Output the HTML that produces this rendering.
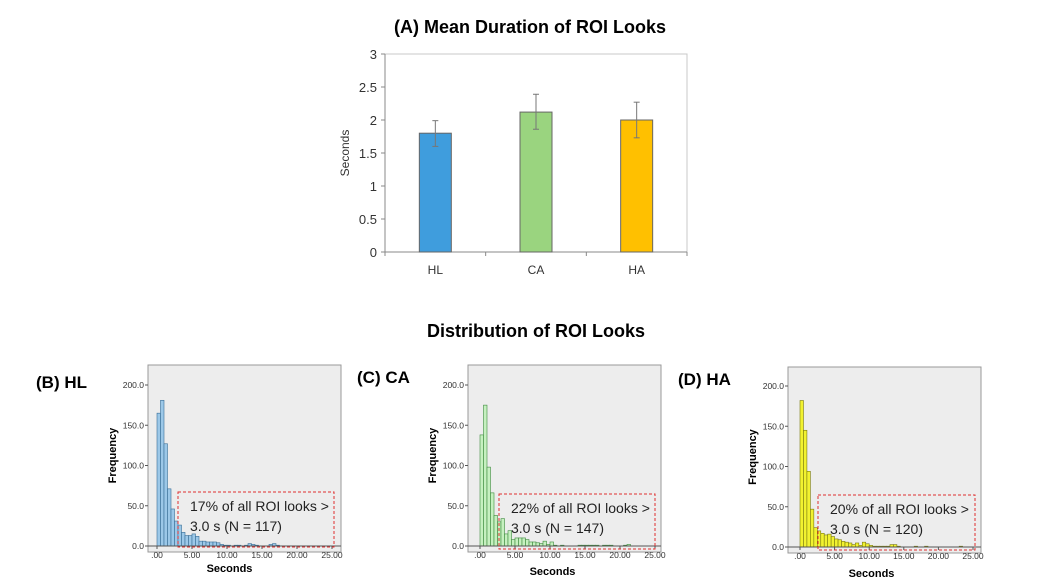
<!DOCTYPE html>
<html><head><meta charset="utf-8"><style>
body{margin:0;background:#fff;}
svg{display:block;font-family:"Liberation Sans",sans-serif;}
</style></head><body>
<svg id="s" width="1060" height="580" viewBox="0 0 1060 580">
<text x="530" y="33" font-size="18" font-weight="bold" text-anchor="middle">(A) Mean Duration of ROI Looks</text>
<text x="536" y="337" font-size="18" font-weight="bold" text-anchor="middle">Distribution of ROI Looks</text>
<g id="bar"></g>
<g id="hist"></g>
</svg>
<script>
const NS="http://www.w3.org/2000/svg";
function mk(p,t,a,txt){const e=document.createElementNS(NS,t);for(const k in a)e.setAttribute(k,a[k]);if(txt!==undefined)e.textContent=txt;p.appendChild(e);return e;}
// Bar chart data
const barCats=["HL","CA","HA"];
const barMeans=[1.8,2.12,2.0];
const barLow=[1.6,1.86,1.73];
const barHigh=[1.99,2.39,2.27];
const barColors=["#3f9ddd","#9ad47f","#ffc000"];
const barTicks=[0,0.5,1,1.5,2,2.5,3];
// Histogram data (0.5 s bins)
const histHL=[165,181,127,71,46,31,26,17,13,13,15,12,6,6,5,5,5,4,2,1,1,0,1,1,0,1,3,2,1,0,0,0,2,3,1,0,0,0,0,0,0,0,0,0,0,0,0,0,0,0];
const histCA=[138,175,98,66,38,30,34,15,19,8,10,10,10,8,5,5,4,3,6,2,5,1,0,1,0,0,0,0,1,1,1,1,1,1,0,1,1,1,0,0,0,1,2,0,0,0,0,0,0,0];
const histHA=[182,145,94,47,24,20,17,15,16,13,10,9,7,6,5,3,5,2,6,4,2,1,1,1,1,1,3,3,1,0,0,0,0,1,0,0,1,0,0,0,0,0,0,0,0,0,1,0,0,0];
const histTicksY=[0,50,100,150,200];
const histTicksX=[0,5,10,15,20,25];

// ---- bar chart
const B=document.getElementById('bar');
const L=385,R=687,T=54,Bt=252;
const y=v=>Bt-(v/3)*(Bt-T);
const bw=(R-L)/barCats.length;
mk(B,'rect',{x:L,y:T,width:R-L,height:Bt-T,fill:'none',stroke:'#c8c8c8','stroke-width':1});
mk(B,'line',{x1:L,y1:T,x2:L,y2:Bt,stroke:'#888'});
mk(B,'line',{x1:L,y1:Bt,x2:R,y2:Bt,stroke:'#888'});
barTicks.forEach(t=>{
 mk(B,'line',{x1:L-4,y1:y(t),x2:L,y2:y(t),stroke:'#888'});
 const tx=mk(B,'text',{x:L-8,y:y(t)+5,'font-size':13,'text-anchor':'end',fill:'#333'},String(t));
 
 
});
for(let i=0;i<=barCats.length;i++) mk(B,'line',{x1:L+i*bw,y1:Bt,x2:L+i*bw,y2:Bt+4,stroke:'#888'});
const yt=mk(B,'text',{x:349,y:153,'font-size':12,'text-anchor':'middle',transform:'rotate(-90 349 153)',fill:'#333'},'Seconds');


barCats.forEach((c,i)=>{
 const cx=L+bw*(i+0.5), w=32;
 const r=mk(B,'rect',{x:cx-w/2,y:y(barMeans[i]),width:w,height:Bt-y(barMeans[i]),fill:barColors[i],stroke:'#666','stroke-width':1});
 
 
 const g=mk(B,'g',{stroke:'#777','stroke-width':1});
 
 
 mk(g,'line',{x1:cx,y1:y(barLow[i]),x2:cx,y2:y(barHigh[i])});
 mk(g,'line',{x1:cx-3,y1:y(barLow[i]),x2:cx+3,y2:y(barLow[i])});
 mk(g,'line',{x1:cx-3,y1:y(barHigh[i]),x2:cx+3,y2:y(barHigh[i])});
 const lt=mk(B,'text',{x:cx,y:274,'font-size':12,'text-anchor':'middle',fill:'#333'},c);
 
 
});

// ---- histograms
const H=document.getElementById('hist');
const panels=[
 {data:histHL,name:'hl',label:'(B) HL',lx:36,ly:388,fl:148,fr:341,ft:365,ax:546,y200:385,x0:157,x25:332,fill:'#9cc8e8',stroke:'#3a6e96',box:[178,492,334,547],txt:['17% of all ROI looks >','3.0 s (N = 117)'],sy:572},
 {data:histCA,name:'ca',label:'(C) CA',lx:357,ly:383,fl:468,fr:661,ft:365,ax:546,y200:385,x0:480,x25:655,fill:'#c6f0c0',stroke:'#3d8a3d',box:[499,494,655,549],txt:['22% of all ROI looks >','3.0 s (N = 147)'],sy:575},
 {data:histHA,name:'ha',label:'(D) HA',lx:678,ly:385,fl:788,fr:981,ft:367,ax:547,y200:386,x0:800,x25:973,fill:'#f2f230',stroke:'#7a7a10',box:[818,495,975,550],txt:['20% of all ROI looks >','3.0 s (N = 120)'],sy:577}
];
panels.forEach(p=>{
 const g=mk(H,'g',{});
 
 
 const pl=mk(g,'text',{x:p.lx,y:p.ly,'font-size':17,'font-weight':'bold'},p.label);
 
 
 mk(g,'rect',{x:p.fl,y:p.ft,width:p.fr-p.fl,height:p.ax-p.ft+6,fill:'#ededed',stroke:'#999'});
 const hy=v=>p.ax-(v/200)*(p.ax-p.y200);
 const hx=v=>p.x0+(v/25)*(p.x25-p.x0);
 histTicksY.forEach(t=>{
  mk(g,'line',{x1:p.fl-3,y1:hy(t),x2:p.fl,y2:hy(t),stroke:'#555'});
  const tt=mk(g,'text',{x:p.fl-4,y:hy(t)+3,'font-size':8.5,'text-anchor':'end',fill:'#333'},t.toFixed(1));
  
  
 });
 histTicksX.forEach(t=>{
  mk(g,'line',{x1:hx(t),y1:p.ax,x2:hx(t),y2:p.ax+3,stroke:'#555'});
  const s=t===0?'.00':t.toFixed(2);
  const tt=mk(g,'text',{x:hx(t),y:p.ax+12,'font-size':8.5,'text-anchor':'middle',fill:'#333'},s);
  
  
 });
 p.data.forEach((v,i)=>{
  if(v<=0)return;
  const r=mk(g,'rect',{x:hx(i*0.5),y:hy(v),width:hx(0.5)-hx(0),height:p.ax-hy(v),fill:p.fill,stroke:p.stroke,'stroke-width':0.6});
  
  
 });
 mk(g,'line',{x1:p.fl,y1:p.ax,x2:p.fr,y2:p.ax,stroke:'#555'});
 const yl=mk(g,'text',{x:p.fl-32,y:(p.ft+p.ax)/2,'font-size':11,'font-weight':'bold','text-anchor':'middle',transform:`rotate(-90 ${p.fl-32} ${(p.ft+p.ax)/2})`},'Frequency');
 
 
 const xl=mk(g,'text',{x:(p.x0+p.x25)/2-15,y:p.sy,'font-size':11,'font-weight':'bold','text-anchor':'middle'},'Seconds');
 
 
 const b=p.box;
 const bx=mk(g,'rect',{x:b[0],y:b[1],width:b[2]-b[0],height:b[3]-b[1],fill:'none',stroke:'#e03030','stroke-dasharray':'3,2','stroke-width':1});
 
 
 const a1=mk(g,'text',{x:b[0]+12,y:b[1]+19,'font-size':14,fill:'#222'},p.txt[0]);
 
 
 const a2=mk(g,'text',{x:b[0]+12,y:b[1]+39,'font-size':14,fill:'#222'},p.txt[1]);
 
 
});
</script>
</body></html>
